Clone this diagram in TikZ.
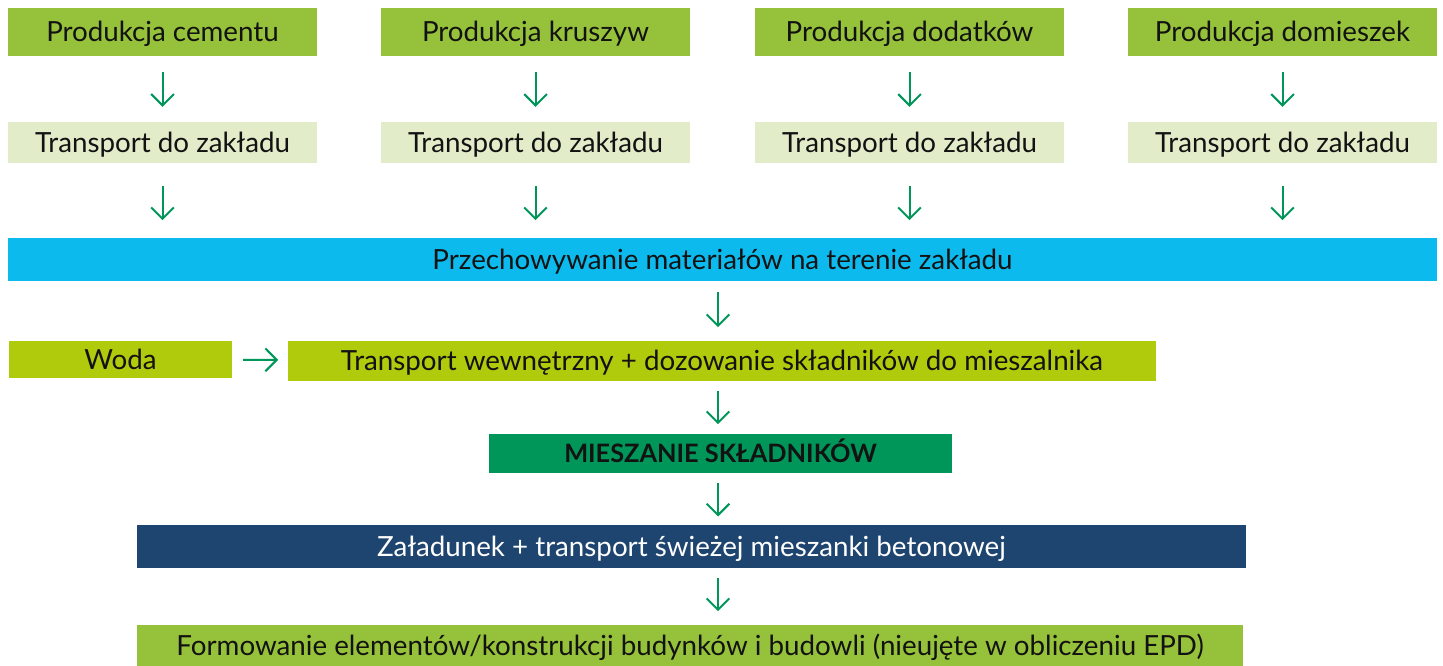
\documentclass[tikz,border=0pt]{standalone}
\usepackage{fontspec}
\setmainfont{Lato}
\usetikzlibrary{arrows.meta}

\definecolor{prodgreen}{RGB}{150,193,58}
\definecolor{paleg}{RGB}{226,236,201}
\definecolor{storeblue}{RGB}{13,186,237}
\definecolor{limeg}{RGB}{176,203,11}
\definecolor{mixgreen}{RGB}{0,150,90}
\definecolor{navy}{RGB}{30,69,112}

\tikzset{every picture/.style={line width=0.75pt}}
\tikzset{
  box/.style={inner sep=0pt, text=black!93, text height=14.5pt, text depth=0pt, font=\fontsize{20.8}{24}\selectfont},
  prodbox/.style={box, fill=prodgreen, minimum width=231.75pt, minimum height=36pt},
  tranbox/.style={box, fill=paleg, minimum width=231.75pt, minimum height=30.75pt},
  flow/.style={draw=mixgreen, line width=1.5pt, -{Straight Barb[length=8.5pt,width=17pt,line width=1.5pt]}}
}

\begin{document}
\begin{tikzpicture}[x=0.75pt,y=0.75pt,yscale=-1,xscale=1]
	\useasboundingbox (0,0) rectangle (1443,666);

	% supply row
	\node[prodbox] (p1) at (162.5,32) {Produkcja cementu};
	\node[prodbox] (p2) at (535.5,32) {Produkcja kruszyw};
	\node[prodbox] (p3) at (909.5,32) {Produkcja dodatków};
	\node[prodbox] (p4) at (1282.5,32) {Produkcja domieszek};
	% transport row
	\node[tranbox] (t1) at (162.5,142.5) {Transport do zakładu};
	\node[tranbox] (t2) at (535.5,142.5) {Transport do zakładu};
	\node[tranbox] (t3) at (909.5,142.5) {Transport do zakładu};
	\node[tranbox] (t4) at (1282.5,142.5) {Transport do zakładu};

	% storage
	\node[box, fill=storeblue, minimum width=1071.75pt, minimum height=32.25pt] (store) at (722.5,259.5) {Przechowywanie materiałów na terenie zakładu};
	% water + dosing
	\node[box, fill=limeg, minimum width=167.25pt, minimum height=27.75pt] (water) at (120.5,359.5) {Woda};
	\node[box, fill=limeg, minimum width=651pt, minimum height=30pt] (dose) at (722,361) {Transport wewnętrzny + dozowanie składników do mieszalnika};
	% mixing
	\node[box, fill=mixgreen, minimum width=347.25pt, minimum height=29.25pt, text height=13.5pt, font=\fontsize{19}{22}\selectfont\bfseries] (mix) at (720.5,453.5) {MIESZANIE SKŁADNIKÓW};
	% loading
	\node[box, fill=navy, text=white, minimum width=831.75pt, minimum height=32.25pt] (load) at (691.5,546.5) {Załadunek + transport świeżej mieszanki betonowej};
	\node[box, fill=prodgreen, minimum width=829.5pt, minimum height=30.75pt] (form) at (690,645.5) {Formowanie elementów/konstrukcji budynków i budowli (nieujęte w obliczeniu EPD)};

	\coordinate (axis) at (718,0);

	% arrows
	\foreach \i in {1,...,4}{
		\draw[flow, shorten <=12pt, shorten >=11pt] (p\i) -- (t\i);
		\draw[flow, shorten <=17pt, shorten >=13pt] (t\i.south) -- (t\i.south |- store.north);
	}
	\draw[flow, shorten <=8pt, shorten >=10pt] (store.south -| axis) -- (dose.north -| axis);
	\draw[flow, shorten <=8pt, shorten >=7pt] (water) -- (dose);
	\draw[flow, shorten <=7pt, shorten >=7pt] (dose.south -| axis) -- (mix.north -| axis);
	\draw[flow, shorten <=7pt, shorten >=6pt] (mix.south -| axis) -- (load.north -| axis);
	\draw[flow, shorten <=7pt, shorten >=10pt] (load.south -| axis) -- (form.north -| axis);

\end{tikzpicture}
\end{document}
